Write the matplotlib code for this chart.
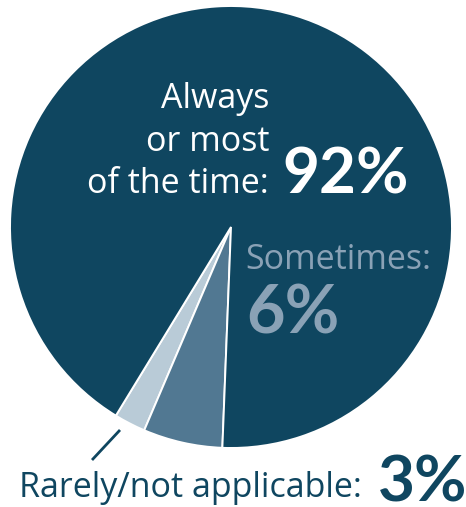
#!/usr/bin/env python3
"""Pie chart: how often, three answer shares."""

import matplotlib

matplotlib.use("Agg")
import matplotlib.pyplot as plt

# slice shares (the labels round them)
categories = ["Rarely/not applicable", "Sometimes", "Always or most of the time"]
shares = [2.3, 5.8, 91.9]
share_labels = ["3%", "6%", "92%"]

DARK = "#0f4660"
MID = "#517892"
LIGHT = "#b9cbd7"
SOMETIMES_TEXT = "#8aa2b6"

W, H = 466, 507
FONT = "Open Sans"
BOLD_FONT = "Lato"

fig = plt.figure(figsize=(W / 100, H / 100), dpi=100)
ax = fig.add_axes([0, 0, 1, 1])

ax.pie(
    shares,
    colors=[LIGHT, MID, DARK],
    startangle=238.6,
    counterclock=True,
    center=(231, H - 227),
    radius=221,
    wedgeprops={"edgecolor": "white", "linewidth": 1.4},
)
ax.set_xlim(0, W)
ax.set_ylim(0, H)
ax.set_aspect("equal")
ax.axis("off")


def y(v):
    return H - v


# big slice label
for text, base in [("Always", 108), ("or most", 151), ("of the time:", 193)]:
    ax.text(269, y(base), text, ha="right", va="baseline", color="white",
            fontsize=24.5, family=FONT)
ax.text(282, y(193), share_labels[2], ha="left", va="baseline", color="white",
        fontsize=46, family=BOLD_FONT, fontweight="bold")

# sometimes
ax.text(245, y(269), categories[1] + ":", ha="left", va="baseline",
        color=SOMETIMES_TEXT, fontsize=24.5, family=FONT)
ax.text(246, y(333), share_labels[1], ha="left", va="baseline",
        color=SOMETIMES_TEXT, fontsize=48, family=BOLD_FONT, fontweight="bold")

# rarely
ax.plot([120, 92], [y(430), y(460)], color=DARK, linewidth=2, solid_capstyle="butt")
ax.text(19, y(497), categories[0] + ":", ha="left", va="baseline", color=DARK,
        fontsize=24.5, family=FONT)
ax.text(378, y(501), share_labels[0], ha="left", va="baseline", color=DARK,
        fontsize=46, family=BOLD_FONT, fontweight="bold")

fig.savefig("out.png", dpi=100)
